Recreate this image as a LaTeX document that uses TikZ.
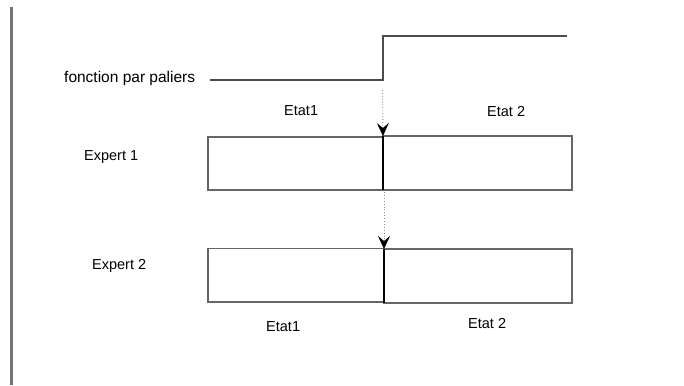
\documentclass[tikz,border=0pt]{standalone}
\usepackage{fontspec}
\setmainfont{Liberation Sans}
\usetikzlibrary{arrows.meta}
\begin{document}
\begin{tikzpicture}[x=1pt,y=-1pt,
  lbl/.style={font=\fontsize{14.5}{17}\selectfont, inner sep=0pt, anchor=base west},
  cell/.style={draw=black!60, line width=1.3pt, inner sep=0pt, outer sep=0pt, anchor=north west},
  divider/.style={draw=black, line width=1.1pt},
  stepline/.style={draw=black!70, line width=1.4pt},
  dotarrow/.style={draw=black!45, line width=0.9pt, dotted,
    -{Stealth[length=13pt, width=12pt, inset=5pt, black, fill=black]}}
]
% page frame
\useasboundingbox (0,0) rectangle (684,385);
\fill[white] (0,0) rectangle (684,385);
% margin bar on the left
\draw[draw=black!55, line width=2.4pt] (11.5,7) -- (11.5,385);

% step function
\coordinate (s0) at (210,80);
\coordinate (s1) at (383,80);
\coordinate (s2) at (383,36);
\coordinate (s3) at (567,36);
\draw[stepline] (s0) -- (s1) -- (s2) -- (s3);
\node[lbl, font=\fontsize{15.5}{18}\selectfont] (fn) at (64,82.5) {fonction par paliers};

% state labels above
\node[lbl] (t1) at (284,115.5) {Etat1};
\node[lbl] (t2) at (487,116.5) {Etat 2};

% expert 1 row
\node[lbl] (x1) at (84,160.5) {Expert 1};
\node[cell, minimum width=175pt, minimum height=53pt] (a1) at (208,137) {};
\node[cell, minimum width=189pt, minimum height=54pt] (b1) at (383,136) {};
\draw[divider] (b1.north west) -- (b1.south west);

% expert 2 row
\node[lbl] (x2) at (92,269) {Expert 2};
\node[cell, minimum width=176pt, minimum height=53.5pt] (a2) at (208,248.5) {};
\node[cell, minimum width=188pt, minimum height=54pt] (b2) at (384,249) {};
\draw[divider] (b2.north west) -- (b2.south west);

% state labels below
\node[lbl] (u1) at (266,331) {Etat1};
\node[lbl] (u2) at (468,328) {Etat 2};

% dotted transfer arrows
\coordinate (d1) at (382.5,90);
\draw[dotarrow] (d1) -- (b1.north west);
\coordinate (d2) at (384,192);
\draw[dotarrow] (d2) -- (b2.north west);
\end{tikzpicture}
\end{document}
